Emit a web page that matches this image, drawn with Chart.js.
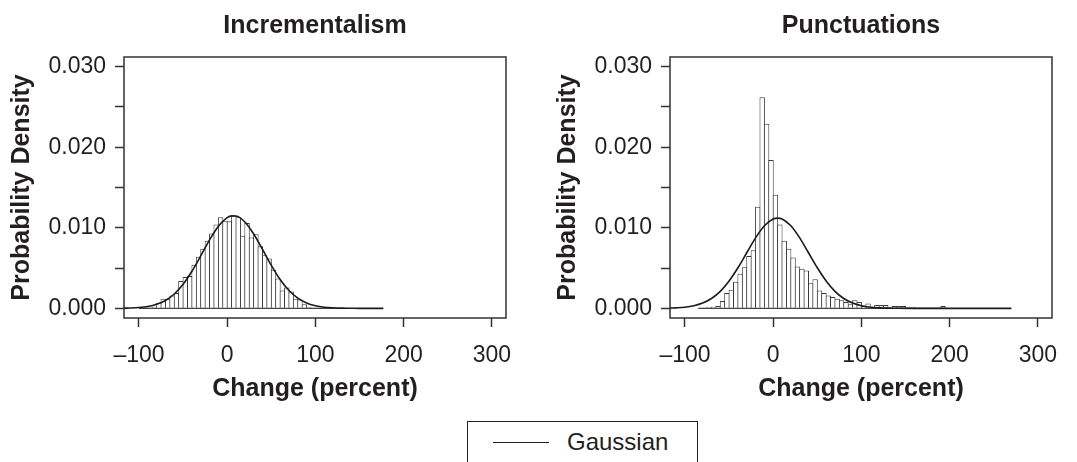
<!DOCTYPE html>
<html lang="en">
<head>
  <meta charset="UTF-8" />
  <title>Incrementalism vs Punctuations - Change Distributions</title>
  <script src="https://cdn.jsdelivr.net/npm/chart.js@4.4.0/dist/chart.umd.min.js"></script>
  <style>
    body {
      margin: 0;
      background: #fff;
      overflow: hidden;
      font-family: 'Liberation Sans', Arial, sans-serif;
      color: #231f20;
    }
    .panel { position: absolute; top: 0; }
    #leftChart { left: 0; }
    #rightChart { left: 546px; }

    /* shared legend under the two panels */
    .legend-box {
      position: absolute;
      left: 467px;
      top: 421px;
      width: 231px;
      height: 60px;
      border: 1.5px solid #231f20;
      box-sizing: border-box;
    }
    .legend-line {
      position: absolute;
      left: 25px;
      top: 20px;
      width: 56px;
      border-top: 1.5px solid #231f20;
    }
    .legend-text {
      position: absolute;
      left: 99px;
      top: 5px;
      font-size: 24px;
      line-height: 30px;
    }
  </style>
</head>
<body>

  <canvas id="leftChart" class="panel" width="540" height="420"></canvas>
  <canvas id="rightChart" class="panel" width="531" height="420"></canvas>
  <div class="legend-box"><span class="legend-line"></span><span class="legend-text">Gaussian</span></div>

  <script>
    // ---- data ----
    const xTicks = [-100, 0, 100, 200, 300];
    const yTicks = [0.000, 0.010, 0.020, 0.030];

    // Incrementalism histogram (bin centres, 5-point bins) and densities
    const incBins = [-97.5, -92.5, -87.5, -82.5, -77.5, -72.5, -67.5, -62.5, -57.5, -52.5,
                     -47.5, -42.5, -37.5, -32.5, -27.5, -22.5, -17.5, -12.5, -7.5, -2.5,
                     2.5, 7.5, 12.5, 17.5, 22.5, 27.5, 32.5, 37.5, 42.5, 47.5,
                     52.5, 57.5, 62.5, 67.5, 72.5, 77.5, 82.5, 87.5, 92.5, 97.5,
                     102.5, 107.5, 112.5, 117.5];
    const incDensity = [0.0001, 0.0001, 0.0001, 0.0002, 0.0007, 0.0012, 0.0012, 0.0016, 0.0019, 0.0034,
                        0.0039, 0.0040, 0.0054, 0.0064, 0.0074, 0.0084, 0.0093, 0.0104, 0.0113, 0.0108,
                        0.0108, 0.0115, 0.0113, 0.0090, 0.0106, 0.0088, 0.0092, 0.0077, 0.0066, 0.0062,
                        0.0048, 0.0037, 0.0022, 0.0026, 0.0021, 0.0012, 0.0011, 0.0005, 0.0002, 0.0001,
                        0.0001, 0, 0.0001, 0];
    const incBaseline = [-100, 120];
    const incCurveX = [-117, -110, -100, -90, -80, -70, -60, -50, -40, -30, -20, -10, 0, 5, 10,
                       20, 30, 40, 50, 60, 70, 80, 90, 100, 110, 120, 130, 140, 150, 160, 170, 177];
    const incCurveY = [0.00002, 0.00004, 0.0001, 0.00023, 0.0005, 0.00098, 0.00178, 0.00298, 0.0046,
                       0.00652, 0.0085, 0.0102, 0.01127, 0.01148, 0.01146, 0.01072, 0.00923, 0.00732,
                       0.00534, 0.00358, 0.00221, 0.00126, 0.00066, 0.00032, 0.00014, 0.00006,
                       0.00002, 0.00001, 0, 0, 0, 0];

    // Punctuations histogram
    const punBins = [-82.5, -77.5, -72.5, -67.5, -62.5, -57.5, -52.5, -47.5, -42.5, -37.5,
                     -32.5, -27.5, -22.5, -17.5, -12.5, -7.5, -2.5, 2.5, 7.5, 12.5,
                     17.5, 22.5, 27.5, 32.5, 37.5, 42.5, 47.5, 52.5, 57.5, 62.5,
                     67.5, 72.5, 77.5, 82.5, 87.5, 92.5, 97.5, 102.5, 107.5, 112.5,
                     117.5, 122.5, 127.5, 132.5, 137.5, 142.5, 147.5, 152.5, 157.5, 162.5,
                     167.5, 172.5, 177.5, 182.5, 187.5, 192.5];
    const punDensity = [0, 0.0001, 0.0002, 0.0002, 0.0003, 0.0009, 0.0019, 0.0023, 0.0033, 0.0043,
                        0.0051, 0.0065, 0.0072, 0.0126, 0.0262, 0.0229, 0.0184, 0.0141, 0.0104, 0.0084,
                        0.0074, 0.0063, 0.0052, 0.0049, 0.0047, 0.0031, 0.0036, 0.0022, 0.0019, 0.0016,
                        0.0014, 0.0012, 0.0010, 0.0008, 0.0005, 0.0010, 0.0008, 0.0003, 0.0006, 0.0002,
                        0.0004, 0.0004, 0.0004, 0.0002, 0.0003, 0.0003, 0.0003, 0.0002, 0.0002, 0.0001,
                        0, 0, 0, 0, 0, 0.0003];
    const punBaseline = [-85, 195];
    const punCurveX = [-117, -110, -100, -90, -80, -70, -60, -50, -40, -30, -20, -10, 0, 5, 10,
                       20, 30, 40, 50, 60, 70, 80, 90, 100, 110, 120, 130, 140, 160, 200, 240, 270];
    const punCurveY = [0.00003, 0.00006, 0.00014, 0.00032, 0.00065, 0.00122, 0.00211, 0.0034, 0.00504,
                       0.0069, 0.00875, 0.01025, 0.01109, 0.0112, 0.01109, 0.01025, 0.00875, 0.0069,
                       0.00504, 0.0034, 0.00211, 0.00122, 0.00065, 0.00032, 0.00014, 0.00006,
                       0.00002, 0.00001, 0, 0, 0, 0];

    const ink = '#231f20';
    Chart.defaults.font.family = "'Liberation Sans', Arial, sans-serif";
    Chart.defaults.color = ink;

    // box around the plotting region, like base graphics box()
    const frameBox = {
      id: 'frameBox',
      afterDraw(chart) {
        const { ctx, chartArea: a } = chart;
        ctx.save();
        ctx.strokeStyle = '#333';
        ctx.lineWidth = 1.5;
        ctx.strokeRect(a.left, a.top, a.right - a.left, a.bottom - a.top);
        ctx.restore();
      }
    };

    function makePanel(id, title, bins, dens, base, cx, cy, rightPad) {
      const bars = bins.map((b, i) => ({ x: b, y: dens[i] }));
      const curve = cx.map((x, i) => ({ x: x, y: cy[i] }));
      const baseline = base.map(x => ({ x: x, y: 0 }));

      return new Chart(document.getElementById(id), {
        type: 'bar',
        data: {
          datasets: [
            { type: 'line', data: curve, borderColor: '#1a1a1a', borderWidth: 1.6,
              pointRadius: 0, cubicInterpolationMode: 'monotone', fill: false },
            { type: 'line', data: baseline, borderColor: '#444', borderWidth: 1.2,
              pointRadius: 0, fill: false },
            { type: 'bar', data: bars, backgroundColor: '#fff', borderColor: '#3a3a3a',
              borderWidth: { top: 1, left: 1, right: 1, bottom: 0 }, borderSkipped: 'start',
              barPercentage: 1.227, categoryPercentage: 1, inflateAmount: 0 }
          ]
        },
        options: {
          responsive: false,
          animation: false,
          events: [],
          layout: { padding: { left: 0, right: rightPad, top: 0, bottom: 0 } },
          plugins: { legend: { display: false }, tooltip: { enabled: false } },
          scales: {
            x: {
              type: 'linear', position: 'bottom', min: -117, max: 316, offset: false,
              afterBuildTicks: s => { s.ticks = xTicks.map(v => ({ value: v })); },
              ticks: {
                padding: 15, maxRotation: 0, autoSkip: false, font: { size: 23 },
                callback: v => v < 0 ? '\u2013' + Math.abs(v) : String(v)
              },
              grid: { display: true, drawOnChartArea: false, drawTicks: true, tickLength: 9,
                      tickWidth: 1.5, tickColor: '#333', offset: false },
              border: { display: false },
              title: { display: true, text: 'Change (percent)', font: { size: 25, weight: 'bold' },
                       padding: { top: 0, bottom: 16 } },
              afterFit: s => { s.height = 102; }
            },
            xTop: {
              type: 'linear', axis: 'x', position: 'top', min: -117, max: 316,
              ticks: { display: false }, grid: { display: false }, border: { display: false },
              title: { display: true, text: title, font: { size: 25, weight: 'bold' },
                       padding: { top: 11, bottom: 0 } },
              afterFit: s => { s.height = 57; }
            },
            y: {
              type: 'linear', min: -0.0012, max: 0.0312,
              ticks: {
                stepSize: 0.005, includeBounds: false, padding: 9, font: { size: 23 },
                // minor marks every 0.005, labels only where the figure has them
                callback: v => yTicks.some(t => Math.abs(t - v) < 1e-9) ? v.toFixed(3) : ''
              },
              grid: { display: true, drawOnChartArea: false, drawTicks: true, tickLength: 9,
                      tickWidth: 1.5, tickColor: '#333' },
              border: { display: false },
              title: { display: true, text: 'Probability Density', font: { size: 25, weight: 'bold' },
                       padding: { top: 7, bottom: 0 } },
              afterFit: s => { s.width = 124; }
            }
          }
        },
        plugins: [frameBox]
      });
    }

    window.leftChart = makePanel('leftChart', 'Incrementalism', incBins, incDensity,
                                 incBaseline, incCurveX, incCurveY, 34);
    window.rightChart = makePanel('rightChart', 'Punctuations', punBins, punDensity,
                                  punBaseline, punCurveX, punCurveY, 25);
  </script>
</body>
</html>
